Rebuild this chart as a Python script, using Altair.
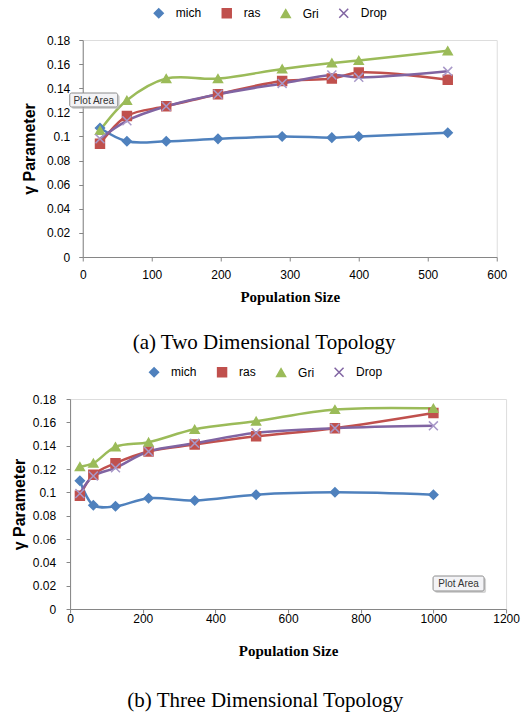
import altair as alt
import pandas as pd

series = ["mich", "ras", "Gri", "Drop"]
line_colors = ["#4F81BD", "#C0504D", "#9BBB59", "#8064A2"]
marker_strokes = ["#4F81BD", "#C0504D", "#9BBB59", "#A898C8"]
marker_shapes = ["diamond", "square", "triangle-up", "M-1,-1L1,1M-1,1L1,-1"]

# (a) Two Dimensional Topology
pop_2d = [25, 64, 121, 196, 289, 361, 400, 529]
mich_2d = [0.107, 0.096, 0.096, 0.098, 0.100, 0.099, 0.100, 0.103]
ras_2d = [0.094, 0.117, 0.125, 0.135, 0.146, 0.148, 0.153, 0.147]
gri_2d = [0.105, 0.130, 0.148, 0.148, 0.156, 0.161, 0.163, 0.171]
drop_2d = [0.098, 0.113, 0.125, 0.135, 0.144, 0.151, 0.149, 0.154]

# (b) Three Dimensional Topology
pop_3d = [27, 64, 125, 216, 343, 512, 729, 1000]
mich_3d = [0.110, 0.089, 0.088, 0.095, 0.093, 0.098, 0.100, 0.098]
ras_3d = [0.097, 0.115, 0.125, 0.135, 0.141, 0.148, 0.155, 0.168]
gri_3d = [0.122, 0.125, 0.139, 0.143, 0.154, 0.161, 0.171, 0.172]
drop_3d = [0.099, 0.114, 0.121, 0.135, 0.142, 0.151, 0.155, 0.157]

y_ticks = [0, 0.02, 0.04, 0.06, 0.08, 0.1, 0.12, 0.14, 0.16, 0.18]
x_ticks_2d = [0, 100, 200, 300, 400, 500, 600]
x_ticks_3d = [0, 200, 400, 600, 800, 1000, 1200]

AXIS_GRAY = "#868686"


def make_df(pop, cols):
    rows = []
    for name, vals in zip(series, cols):
        for p, v in zip(pop, vals):
            rows.append({"pop": p, "val": v, "series": name})
    return pd.DataFrame(rows)


def panel(df, xticks, w, h, caption, xlab_pad, xtitle_pad, ylab_pad, ytitle_pad,
          cap_offset, box, legend_x):
    legend = alt.Legend(
        title=None, orient="none", direction="horizontal",
        legendX=legend_x, legendY=-33, labelFont="Liberation Sans",
        labelFontSize=12, labelColor="#000", labelOffset=11,
        columnPadding=17, symbolSize=80, symbolStrokeWidth=1.5, padding=0,
    )
    x = alt.X("pop:Q", scale=alt.Scale(domain=[xticks[0], xticks[-1]], nice=False),
              axis=alt.Axis(values=xticks, format="d", title="Population Size", grid=False,
                            labelFont="Liberation Sans", labelFontSize=12,
                            labelColor="#000", labelPadding=xlab_pad,
                            tickSize=4, tickColor=AXIS_GRAY, domainColor=AXIS_GRAY,
                            titleFont="Liberation Serif", titleFontSize=15,
                            titleFontWeight="bold", titleColor="#000",
                            titlePadding=xtitle_pad, labelFlush=False))
    y = alt.Y("val:Q", scale=alt.Scale(domain=[0, 0.18], nice=False),
              axis=alt.Axis(values=y_ticks, format=".2~f", title="γ Parameter",
                            grid=False, labelFont="Liberation Sans",
                            labelFontSize=12, labelColor="#000",
                            labelPadding=ylab_pad, tickSize=4,
                            tickColor=AXIS_GRAY, domainColor=AXIS_GRAY,
                            titleFont="Liberation Sans", titleFontSize=16,
                            titleFontWeight="bold", titleColor="#000",
                            titlePadding=ytitle_pad))
    color = alt.Color("series:N", scale=alt.Scale(domain=series, range=line_colors),
                      legend=legend)
    base = alt.Chart(df).encode(x=x, y=y, color=color)
    lines = base.mark_line(interpolate="catmull-rom", strokeWidth=2.5)
    pts = base.mark_point(filled=True, size=80, opacity=1, strokeWidth=1.5).encode(
        shape=alt.Shape("series:N", scale=alt.Scale(domain=series, range=marker_shapes),
                        legend=legend),
        stroke=alt.Stroke("series:N", scale=alt.Scale(domain=series, range=marker_strokes),
                          legend=legend),
    )
    bx0, by0, bx1, by1 = box
    note = pd.DataFrame({"t": ["Plot Area"]})
    shadow = alt.Chart(note).mark_rect(fill="#B8B8B8", cornerRadius=2, opacity=0.6).encode(
        x=alt.value(bx0 + 2), x2=alt.value(bx1 + 2), y=alt.value(by0 + 2), y2=alt.value(by1 + 2))
    rect = alt.Chart(note).mark_rect(fill="#F3F3F6", stroke="#8C8C8C", strokeWidth=1,
                                     cornerRadius=2).encode(
        x=alt.value(bx0), x2=alt.value(bx1), y=alt.value(by0), y2=alt.value(by1))
    txt = alt.Chart(note).mark_text(font="Liberation Sans", fontSize=10, color="#333",
                                    align="center", baseline="middle").encode(
        x=alt.value((bx0 + bx1) / 2), y=alt.value((by0 + by1) / 2 + 0.5), text="t:N")
    return alt.layer(lines, pts, shadow, rect, txt).properties(
        width=w, height=h,
        title=alt.TitleParams(caption, orient="bottom", anchor="middle", frame="bounds",
                              font="Liberation Serif", fontSize=21,
                              fontWeight="normal", color="#000", offset=cap_offset),
    ).resolve_scale(color="shared")


top = panel(make_df(pop_2d, [mich_2d, ras_2d, gri_2d, drop_2d]), x_ticks_2d, 414, 217,
            "(a) Two Dimensional Topology", 8, 9, 9, 9, 28, (-13, 53, 35, 67), 70)
bottom = panel(make_df(pop_3d, [mich_3d, ras_3d, gri_3d, drop_3d]), x_ticks_3d, 436, 210,
               "(b) Three Dimensional Topology", 0, 19, 10.5, 5, 32, (363, 177, 414, 192), 78)

chart = alt.vconcat(top, bottom, spacing=11, center=True).resolve_scale(
    color="independent", shape="independent", stroke="independent"
).resolve_legend(
    color="independent", shape="independent", stroke="independent"
).properties(
    padding={"left": 10, "top": 6, "right": 4, "bottom": 2}
).configure_view(stroke=None).configure(background="white")

chart.save("out.html", embed_options={"renderer": "svg", "actions": False})
